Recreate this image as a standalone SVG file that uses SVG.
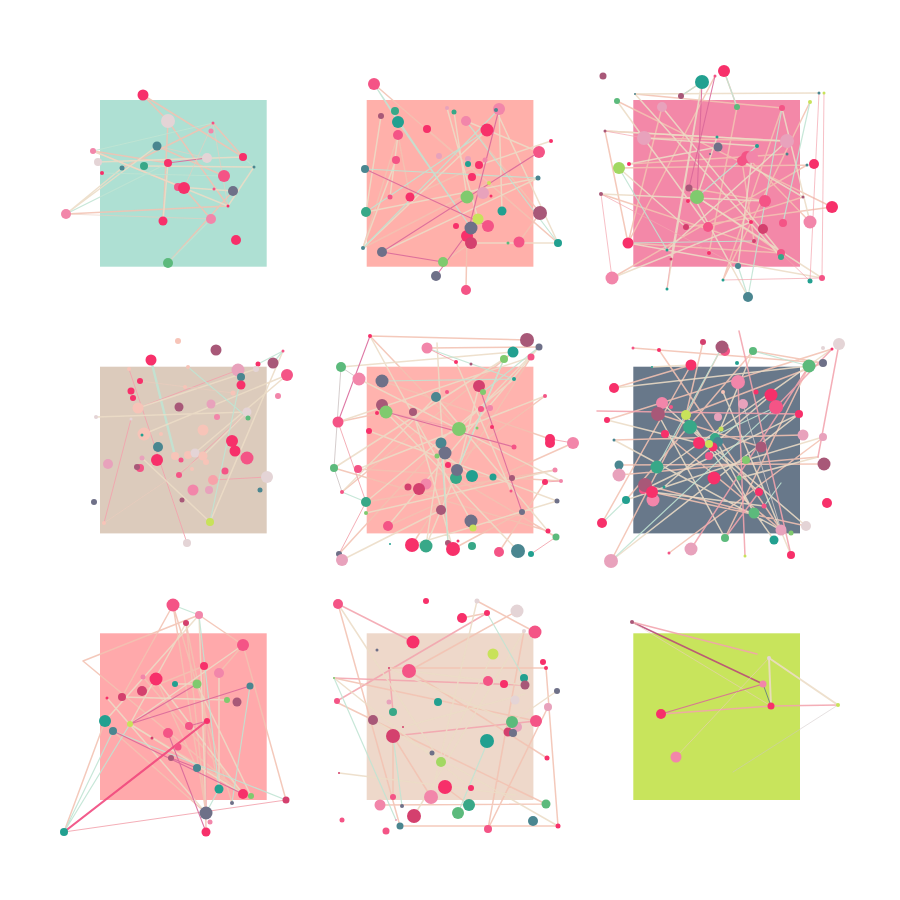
<svg xmlns="http://www.w3.org/2000/svg" width="900" height="900" viewBox="0 0 900 900">
<style>
path{fill:none;stroke-linecap:round;opacity:.88}
.e1{stroke:#f2c2b2;stroke-width:1.5}
.e2{stroke:#ecdcc6;stroke-width:1.5}
.e3{stroke:#bfe4d3;stroke-width:1.2}
.e4{stroke:#f3a3ad;stroke-width:1}
.e5{stroke:#d9679a;stroke-width:1.1}
.e6{stroke:#eccdbd;stroke-width:.7}
.e7{stroke:#cfc6c6;stroke-width:1}
.e8{stroke:#f0457c;stroke-width:2.2}
.e9{stroke:#b84878;stroke-width:1.6}
.e10{stroke:#5a7088;stroke-width:.9}
.h{fill:#f7306a}.p{fill:#f45486}.l{fill:#f286aa}.m{fill:#e8a2bc}.t{fill:#22a090}.s{fill:#4a8690}
.g{fill:#5cba7c}.j{fill:#38a888}.y{fill:#c8e25a}.v{fill:#a85878}.c{fill:#d4406e}.u{fill:#6e7088}
.w{fill:#e4d4d6}.e{fill:#f7c4b8}.n{fill:#80ca6e}.o{fill:#a2d862}.f{fill:#f7a2aa}
</style>
<g id="panels">
<rect x="100" y="100" width="166.7" height="166.7" fill="#aee0d3"/>
<rect x="366.7" y="100" width="166.7" height="166.7" fill="#ffb0aa"/>
<rect x="633.3" y="100" width="166.7" height="166.7" fill="#f388a8"/>
<rect x="100" y="366.7" width="166.7" height="166.7" fill="#dccbbc"/>
<rect x="366.7" y="366.7" width="166.7" height="166.7" fill="#ffb3ae"/>
<rect x="633.3" y="366.7" width="166.7" height="166.7" fill="#68788a"/>
<rect x="100" y="633.3" width="166.7" height="166.7" fill="#ffa9ab"/>
<rect x="366.7" y="633.3" width="166.7" height="166.7" fill="#eed8ca"/>
<rect x="633.3" y="633.3" width="166.7" height="166.7" fill="#c8e45c"/>
</g>
<g id="connectors">
<path class="e1" d="M143 95L168 121M143 95L243 157M168 121L163 221M168 121L228 206M93 151L184 188M122 168L213 123M66 214L228 206M168 263L233 191M184 188L211 219M157 146L224 176M213 123L243 157M93 151L168 163"/>
<path class="e2" d="M93 151L228 206M98 162L243 157M66 214L157 146M66 214L122 168M254 167L228 206M144 166L254 167M178 187L233 191M98 162L207 158M163 221L168 163"/>
<path class="e3" d="M66 214L168 163M168 263L211 219M93 151L213 123M254 167L243 157M224 176L102 173"/>
<path class="e5" d="M168 163L207 158"/>
<path class="e6" d="M213 123L228 206M213 123L184 188M157 146L207 158M66 214L211 219"/>

<path class="e1" d="M374 84L558 243M398 135L410 197M466 121L540 213M427 129L558 243M410 197L479 165M443 262L471 243M466 290L467 236M363 248L489 183M519 242L540 213M398 135L363 248"/>
<path class="e2" d="M398 135L390 197M499 109L502 211M496 110L558 243M447 108L478 219M466 121L539 152M487 130L363 248M551 141L479 165M538 178L366 212M538 178L382 252M471 243L558 243M454 112L467 197M381 116L366 212M396 160L363 248"/>
<path class="e3" d="M374 84L398 122M374 84L471 228M398 122L471 228M499 109L363 248M365 169L538 178M466 121L558 243M487 130L366 212"/>
<path class="e5" d="M499 109L467 236M365 169L488 226M539 152L382 252M382 252L443 262M436 276L471 228"/>

<path class="e1" d="M635 94L782 108M617 101L832 207M605 131L787 141M644 138L787 141M605 131L628 243M628 243L781 253M619 168L807 165M601 194L781 253M612 278L807 165M662 107L628 243M702 82L681 96M724 71L737 107M715 76L628 243M737 107L709 253M782 108L723 280M742 161L754 241M747 157L810 222M689 188L765 201M686 227L832 207M629 164L787 154M697 197L781 253M708 227L803 197M810 102L723 280"/>
<path class="e2" d="M635 94L819 93M644 138L757 146M617 101L708 227M787 141L605 131M702 82L671 259M702 82L667 289M718 147L629 164M697 197L822 278M752 157L738 266M619 168L686 227M782 108L810 222M635 94L781 257M601 194L765 201M612 278L751 222M689 188L748 297M662 107L781 253M628 243L822 278M717 137L697 197M742 161L803 197M667 250L787 141"/>
<path class="e3" d="M702 82L681 96M724 71L737 107M757 146L697 197M628 243L754 241M782 108L748 297M810 102L783 223M738 266L748 297M619 168L667 250"/>
<path class="e4" style="stroke-width:.8" d="M819 93L810 281M824 93L822 278M605 131L644 138M601 194L612 278M723 280L822 278M667 289L671 259M810 281L781 253M601 194L738 266"/>
<path class="e5" d="M702 82L697 197M715 76L689 188"/>

<path class="e3" style="stroke-width:2.4" d="M151 360L175 456"/>
<path class="e4" d="M129 369L187 543M138 408L238 370M104 523L131 419M213 480L267 477M179 475L247 412"/>
<path class="e2" d="M210 522L283 351M210 522L142 458M138 408L256 369M96 417L247 412M144 434L287 375M203 456L247 412M195 453L287 375"/>
<path class="e3" d="M188 367L248 418M258 364L283 351M273 363L283 351M210 522L241 377"/>
<path class="e6" d="M104 523L203 456M140 381L233 393"/>

<path class="e1" d="M370 336L527 340M338 422L386 412M427 348L539 347M342 492L513 352M366 502L555 470M388 526L573 443M412 545L531 357M426 484L545 396M339 554L441 443M456 478L556 537M382 381L550 439M370 336L459 429M334 468L548 531M358 469L561 481M453 549L522 512M499 552L545 482"/>
<path class="e2" d="M370 336L471 521M539 347L459 429M341 367L513 352M359 379L561 481M436 397L548 531M366 502L514 379M338 422L531 357M369 431L557 501M413 412L453 549M382 405L472 476M426 546L504 359M342 560L441 510M388 526L539 347M437 343L448 543M456 362L511 491M334 468L504 359M358 469L545 396M412 545L557 501M386 412L518 551M441 443L426 546M366 513L555 470M479 386L456 478M342 492L436 397"/>
<path class="e3" d="M427 348L514 379M382 381L514 379M441 443L448 543M366 502L342 492M504 359L457 470M539 347L483 392"/>
<path class="e4" d="M338 422L366 502M386 412L459 429M550 439L573 443M545 482L561 481M427 348L456 362M531 554L556 537M339 554L366 502"/>
<path class="e5" d="M386 412L514 447M370 336L338 422M479 386L522 512"/>
<path class="e7" d="M341 367L334 468M359 379L341 367M334 468L342 492"/>

<path class="e1" d="M633 348L823 363M659 350L781 530M614 388L691 365M607 420L832 349M614 440L803 435M619 465L824 464M611 561L722 347M602 523L691 365M669 553L824 437M645 485L754 513M619 475L818 457M652 492L806 526M686 415L823 363M753 351L823 363M658 414L761 447M725 538L809 366M626 500L753 351M703 342L686 415M665 434L781 530"/>
<path class="e2" d="M614 388L809 366M662 403L759 492M723 392L791 555M658 414L725 538M643 490L799 414M686 415L774 540M611 561L799 414M690 427L806 526M656 474L832 349M614 440L781 530M715 438L754 513M652 367L691 365M626 500L746 460M652 492L764 506M746 460L823 437M739 478L818 457M664 487L771 395M607 420L699 443M709 456L753 351"/>
<path class="e3" d="M699 443L776 407M611 561L776 407M657 467L722 347M626 500L602 523M764 506L781 483M753 351L809 366"/>
<path class="e4" style="stroke-width:1.5" d="M739 331L791 555M597 411L799 414M745 556L738 382M725 538L759 492M839 344L818 457M832 349L776 407M691 549L809 366"/>
<path class="e7" d="M743 404L781 530"/>

<path class="e1" d="M173 605L122 697M199 615L243 645M83 661L243 794M83 661L199 615M186 623L206 813M186 623L219 789M173 605L232 803M219 673L243 645M130 724L251 796M113 731L206 813M204 666L206 832M286 800L243 645M143 677L243 794M105 721L64 832M156 679L197 768M142 691L204 666M173 605L206 813"/>
<path class="e2" d="M199 615L105 721M186 623L130 724M175 684L197 684M122 697L227 700M197 684L251 796M243 645L130 724M219 673L219 789M199 615L206 813M156 679L243 794M107 698L206 813M130 724L243 794"/>
<path class="e3" d="M64 832L113 731M64 832L130 724M113 731L286 800M199 615L219 789M250 686L232 803M206 813L219 789M173 605L199 615"/>
<path class="e4" d="M64 832L286 800M207 721L206 813"/>
<path class="e5" d="M113 731L243 794M130 724L197 684M130 724L250 686M168 733L206 832M171 758L197 768M189 726L207 721"/>
<path class="e8" d="M64 832L207 721"/>

<path class="e4" style="stroke-width:1.5" d="M338 604L413 642M337 701L487 613M334 678L524 685M393 736L536 721M389 668L393 712"/>
<path class="e1" d="M338 604L400 826M477 601L535 632M517 611L409 671M487 613L462 618M334 678L536 721M409 671L547 758M393 736L393 797M524 631L488 829M336 702L546 804M431 797L393 736M548 707L488 829M469 805L445 787M400 826L558 826M380 805L546 804M389 668L546 668M546 668L558 826"/>
<path class="e2" d="M338 604L441 762M334 678L471 788M389 668L512 722M373 720L558 826M403 727L525 694M524 631L414 816M493 654L441 762M557 691L512 722M339 773L516 795M409 671L525 685M477 601L431 797"/>
<path class="e3" d="M487 613L524 678M334 678L396 820M393 736L402 806M488 741L458 813"/>

<path class="e9" d="M632 622L763 684"/>
<path class="e4" style="stroke-width:1.5" d="M632 622L757 654M661 714L771 706L838 705"/>
<path class="e6" d="M632 622L771 706M676 757L769 658"/>
<path class="e5" d="M661 714L763 684"/>
<path class="e2" style="stroke-width:2" d="M769 658L771 706M769 658L838 705"/>
<path class="e10" d="M763 684L771 706"/>
<path class="e7" style="stroke-width:.6" d="M838 705L733 772"/>
</g>
<g id="nodes">
<circle id="a1" class="h" cx="143" cy="95" r="5.5"/><circle id="a2" class="w" cx="168" cy="121" r="7"/><circle id="a3" class="p" cx="213" cy="123" r="1.5"/><circle id="a4" class="l" cx="211" cy="131" r="2.5"/><circle id="a5" class="s" cx="157" cy="146" r="4.5"/><circle id="a6" class="l" cx="93" cy="151" r="3"/><circle id="a7" class="w" cx="98" cy="162" r="4"/><circle id="a8" class="s" cx="122" cy="168" r="2.5"/><circle id="a9" class="h" cx="102" cy="173" r="2"/><circle id="a10" class="j" cx="144" cy="166" r="4"/><circle id="a11" class="h" cx="168" cy="163" r="4"/><circle id="a12" class="w" cx="207" cy="158" r="5"/><circle id="a13" class="h" cx="243" cy="157" r="4"/><circle id="a14" class="s" cx="254" cy="167" r="1.5"/><circle id="a15" class="p" cx="224" cy="176" r="6"/><circle id="a17" class="p" cx="178" cy="187" r="4"/><circle id="a16" class="h" cx="184" cy="188" r="6"/><circle id="a18" class="u" cx="233" cy="191" r="5"/><circle id="a19" class="p" cx="214" cy="189" r="1.5"/><circle id="a20" class="h" cx="228" cy="206" r="1.5"/><circle id="a21" class="l" cx="66" cy="214" r="5"/><circle id="a22" class="h" cx="163" cy="221" r="4.5"/><circle id="a23" class="l" cx="211" cy="219" r="5"/><circle id="a24" class="h" cx="236" cy="240" r="5"/><circle id="a25" class="g" cx="168" cy="263" r="5"/>

<circle id="b1" class="p" cx="374" cy="84" r="6"/><circle id="b2" class="j" cx="395" cy="111" r="4"/><circle id="b3" class="t" cx="398" cy="122" r="6"/><circle id="b4" class="v" cx="381" cy="116" r="3"/><circle id="b5" class="p" cx="398" cy="135" r="5"/><circle id="b6" class="h" cx="427" cy="129" r="4"/><circle id="b7" class="m" cx="447" cy="108" r="2"/><circle id="b8" class="j" cx="454" cy="112" r="2.5"/><circle id="b9" class="l" cx="466" cy="121" r="5"/><circle id="b10" class="l" cx="499" cy="109" r="6"/><circle id="b11" class="s" cx="496" cy="110" r="2"/><circle id="b12" class="h" cx="487" cy="130" r="6.5"/><circle id="b13" class="p" cx="396" cy="160" r="4"/><circle id="b14" class="m" cx="439" cy="156" r="3"/><circle id="b15" class="s" cx="365" cy="169" r="4"/><circle id="b16" class="m" cx="468" cy="159" r="3"/><circle id="b17" class="t" cx="468" cy="164" r="3"/><circle id="b18" class="h" cx="479" cy="165" r="4"/><circle id="b19" class="l" cx="485" cy="160" r="2.5"/><circle id="b20" class="h" cx="551" cy="141" r="2"/><circle id="b21" class="p" cx="539" cy="152" r="6"/><circle id="b22" class="s" cx="538" cy="178" r="2.5"/><circle id="b23" class="h" cx="472" cy="177" r="4"/><circle id="b24" class="y" cx="489" cy="183" r="2"/><circle id="b25" class="m" cx="483" cy="193" r="6"/><circle id="b26" class="h" cx="491" cy="196" r="1.5"/><circle id="b27" class="n" cx="467" cy="197" r="6.5"/><circle id="b28" class="h" cx="410" cy="197" r="4.5"/><circle id="b29" class="p" cx="390" cy="197" r="2.5"/><circle id="b30" class="j" cx="366" cy="212" r="5"/><circle id="b31" class="t" cx="502" cy="211" r="4.5"/><circle id="b32" class="v" cx="540" cy="213" r="7"/><circle id="b33" class="y" cx="478" cy="219" r="5.5"/><circle id="b34" class="p" cx="488" cy="226" r="6"/><circle id="b35" class="h" cx="456" cy="226" r="3"/><circle id="b37" class="h" cx="467" cy="236" r="6"/><circle id="b36" class="u" cx="471" cy="228" r="6.5"/><circle id="b38" class="c" cx="471" cy="243" r="6"/><circle id="b39" class="g" cx="508" cy="243" r="1.5"/><circle id="b40" class="p" cx="519" cy="242" r="5.5"/><circle id="b41" class="t" cx="558" cy="243" r="4"/><circle id="b42" class="s" cx="363" cy="248" r="2"/><circle id="b43" class="u" cx="382" cy="252" r="5"/><circle id="b44" class="n" cx="443" cy="262" r="5"/><circle id="b45" class="u" cx="436" cy="276" r="5"/><circle id="b46" class="p" cx="466" cy="290" r="5"/>

<circle id="c1" class="v" cx="603" cy="76" r="3.5"/><circle id="c2" class="h" cx="724" cy="71" r="6"/><circle id="c3" class="t" cx="702" cy="82" r="7"/><circle id="c4" class="v" cx="681" cy="96" r="3"/><circle id="c5" class="p" cx="715" cy="76" r="1.5"/><circle id="c6" class="s" cx="635" cy="94" r="1"/><circle id="c7" class="s" cx="819" cy="93" r="1.5"/><circle id="c8" class="y" cx="824" cy="93" r="1.5"/><circle id="c9" class="g" cx="617" cy="101" r="3"/><circle id="c10" class="m" cx="662" cy="107" r="5"/><circle id="c11" class="g" cx="737" cy="107" r="3"/><circle id="c12" class="p" cx="782" cy="108" r="3"/><circle id="c13" class="y" cx="810" cy="102" r="2"/><circle id="c14" class="v" cx="605" cy="131" r="1.5"/><circle id="c15" class="m" cx="644" cy="138" r="7"/><circle id="c16" class="t" cx="717" cy="137" r="1.5"/><circle id="c17" class="u" cx="718" cy="147" r="4.5"/><circle id="c18" class="t" cx="757" cy="146" r="2"/><circle id="c19" class="m" cx="787" cy="141" r="7"/><circle id="c20" class="u" cx="710" cy="154" r="1"/><circle id="c23" class="p" cx="742" cy="161" r="5"/><circle id="c21" class="p" cx="747" cy="157" r="6"/><circle id="c22" class="l" cx="752" cy="157" r="6"/><circle id="c24" class="s" cx="787" cy="154" r="1.5"/><circle id="c25" class="h" cx="629" cy="164" r="2"/><circle id="c26" class="o" cx="619" cy="168" r="6"/><circle id="c27" class="h" cx="814" cy="164" r="5"/><circle id="c28" class="s" cx="807" cy="165" r="1.5"/><circle id="c29" class="v" cx="689" cy="188" r="3.5"/><circle id="c30" class="n" cx="697" cy="197" r="7"/><circle id="c31" class="h" cx="688" cy="201" r="2"/><circle id="c32" class="v" cx="601" cy="194" r="2"/><circle id="c33" class="h" cx="832" cy="207" r="6"/><circle id="c34" class="v" cx="803" cy="197" r="1.5"/><circle id="c35" class="p" cx="765" cy="201" r="6"/><circle id="c36" class="l" cx="810" cy="222" r="6.5"/><circle id="c37" class="c" cx="686" cy="227" r="3"/><circle id="c38" class="p" cx="708" cy="227" r="5"/><circle id="c39" class="c" cx="763" cy="229" r="5"/><circle id="c40" class="h" cx="751" cy="222" r="2"/><circle id="c41" class="p" cx="783" cy="223" r="4"/><circle id="c42" class="c" cx="754" cy="241" r="2"/><circle id="c43" class="h" cx="628" cy="243" r="5.5"/><circle id="c44" class="t" cx="667" cy="250" r="1.5"/><circle id="c45" class="h" cx="709" cy="253" r="2"/><circle id="c46" class="c" cx="671" cy="259" r="1.5"/><circle id="c47" class="p" cx="781" cy="253" r="4"/><circle id="c48" class="j" cx="781" cy="257" r="3"/><circle id="c49" class="s" cx="738" cy="266" r="3"/><circle id="c50" class="l" cx="612" cy="278" r="6.5"/><circle id="c51" class="t" cx="723" cy="280" r="1.5"/><circle id="c52" class="t" cx="810" cy="281" r="2.5"/><circle id="c53" class="p" cx="822" cy="278" r="3"/><circle id="c54" class="t" cx="667" cy="289" r="1.5"/><circle id="c55" class="s" cx="748" cy="297" r="5"/>

<circle id="d1" class="e" cx="178" cy="341" r="3"/><circle id="d2" class="v" cx="216" cy="350" r="5.5"/><circle id="d3" class="h" cx="151" cy="360" r="5.5"/><circle id="d4" class="p" cx="283" cy="351" r="1.5"/><circle id="d5" class="h" cx="258" cy="364" r="2.5"/><circle id="d6" class="v" cx="273" cy="363" r="5.5"/><circle id="d7" class="p" cx="287" cy="375" r="6"/><circle id="d8" class="m" cx="238" cy="370" r="6.5"/><circle id="d11" class="w" cx="256" cy="369" r="3"/><circle id="d9" class="s" cx="241" cy="377" r="4"/><circle id="d10" class="h" cx="241" cy="385" r="4.5"/><circle id="d12" class="e" cx="188" cy="367" r="2"/><circle id="d13" class="e" cx="129" cy="369" r="2"/><circle id="d14" class="h" cx="140" cy="381" r="3"/><circle id="d15" class="h" cx="131" cy="391" r="3.5"/><circle id="d16" class="h" cx="133" cy="398" r="3"/><circle id="d17" class="e" cx="185" cy="387" r="2"/><circle id="d18" class="e" cx="233" cy="393" r="2.5"/><circle id="d19" class="l" cx="278" cy="396" r="3"/><circle id="d20" class="e" cx="138" cy="408" r="5.5"/><circle id="d21" class="v" cx="179" cy="407" r="4.5"/><circle id="d22" class="m" cx="211" cy="404" r="4.5"/><circle id="d23" class="w" cx="247" cy="412" r="4.5"/><circle id="d24" class="g" cx="248" cy="418" r="2.5"/><circle id="d25" class="l" cx="217" cy="417" r="3"/><circle id="d26" class="w" cx="96" cy="417" r="2"/><circle id="d27" class="w" cx="131" cy="419" r="1.5"/><circle id="d28" class="e" cx="144" cy="434" r="6.5"/><circle id="d29" class="t" cx="142" cy="435" r="1.5"/><circle id="d30" class="e" cx="161" cy="434" r="2"/><circle id="d31" class="e" cx="203" cy="430" r="5.5"/><circle id="d32" class="h" cx="232" cy="441" r="6"/><circle id="d33" class="h" cx="235" cy="451" r="5.5"/><circle id="d34" class="p" cx="247" cy="458" r="6.5"/><circle id="d35" class="s" cx="158" cy="447" r="5"/><circle id="d36" class="h" cx="157" cy="460" r="6"/><circle id="d39" class="e" cx="175" cy="456" r="4"/><circle id="d38" class="e" cx="188" cy="455" r="4"/><circle id="d37" class="w" cx="195" cy="453" r="4.5"/><circle id="d40" class="e" cx="203" cy="456" r="4.5"/><circle id="d41" class="p" cx="181" cy="460" r="2.5"/><circle id="d42" class="e" cx="206" cy="462" r="3"/><circle id="d43" class="m" cx="108" cy="464" r="5"/><circle id="d44" class="m" cx="142" cy="458" r="2.5"/><circle id="d46" class="p" cx="140" cy="468" r="4"/><circle id="d45" class="v" cx="137" cy="467" r="3"/><circle id="d47" class="e" cx="192" cy="469" r="2"/><circle id="d48" class="p" cx="179" cy="475" r="3"/><circle id="d49" class="p" cx="225" cy="471" r="3.5"/><circle id="d50" class="f" cx="213" cy="480" r="5"/><circle id="d51" class="w" cx="267" cy="477" r="6"/><circle id="d52" class="l" cx="193" cy="490" r="5.5"/><circle id="d53" class="m" cx="209" cy="490" r="4"/><circle id="d54" class="s" cx="260" cy="490" r="2.5"/><circle id="d55" class="v" cx="182" cy="500" r="2.5"/><circle id="d56" class="u" cx="94" cy="502" r="3"/><circle id="d57" class="y" cx="210" cy="522" r="4"/><circle id="d58" class="e" cx="104" cy="523" r="2"/><circle id="d59" class="w" cx="187" cy="543" r="4"/>

<circle id="f1" class="h" cx="370" cy="336" r="2"/><circle id="f2" class="l" cx="427" cy="348" r="5.5"/><circle id="f3" class="v" cx="527" cy="340" r="7"/><circle id="f4" class="u" cx="539" cy="347" r="3.5"/><circle id="f5" class="t" cx="513" cy="352" r="5.5"/><circle id="f6" class="p" cx="531" cy="357" r="3.5"/><circle id="f7" class="n" cx="504" cy="359" r="4"/><circle id="f8" class="h" cx="456" cy="362" r="2"/><circle id="f9" class="v" cx="471" cy="364" r="1.5"/><circle id="f10" class="g" cx="341" cy="367" r="5"/><circle id="f11" class="l" cx="359" cy="379" r="6.5"/><circle id="f12" class="u" cx="382" cy="381" r="6.5"/><circle id="f13" class="t" cx="514" cy="379" r="2"/><circle id="f14" class="c" cx="479" cy="386" r="6"/><circle id="f15" class="n" cx="483" cy="392" r="3"/><circle id="f16" class="s" cx="436" cy="397" r="5"/><circle id="f17" class="p" cx="447" cy="392" r="2"/><circle id="f18" class="v" cx="382" cy="405" r="6"/><circle id="f19" class="n" cx="386" cy="412" r="6.5"/><circle id="f20" class="h" cx="377" cy="413" r="2"/><circle id="f21" class="v" cx="413" cy="412" r="4"/><circle id="f22" class="p" cx="481" cy="409" r="3"/><circle id="f23" class="l" cx="490" cy="408" r="3"/><circle id="f24" class="p" cx="545" cy="396" r="2"/><circle id="f25" class="p" cx="338" cy="422" r="5.5"/><circle id="f26" class="h" cx="369" cy="431" r="3"/><circle id="f27" class="n" cx="459" cy="429" r="7"/><circle id="f28" class="n" cx="477" cy="428" r="1.5"/><circle id="f29" class="h" cx="492" cy="427" r="2"/><circle id="f30" class="h" cx="550" cy="439" r="5"/><circle id="f31" class="h" cx="550" cy="443" r="5"/><circle id="f32" class="l" cx="573" cy="443" r="6"/><circle id="f33" class="p" cx="514" cy="447" r="2.5"/><circle id="f34" class="s" cx="441" cy="443" r="5.5"/><circle id="f35" class="u" cx="445" cy="453" r="6.5"/><circle id="f36" class="n" cx="437" cy="456" r="2.5"/><circle id="f37" class="h" cx="448" cy="465" r="3"/><circle id="f39" class="j" cx="456" cy="478" r="6"/><circle id="f38" class="u" cx="457" cy="470" r="6"/><circle id="f40" class="t" cx="472" cy="476" r="6"/><circle id="f41" class="t" cx="493" cy="477" r="3.5"/><circle id="f42" class="v" cx="512" cy="478" r="3"/><circle id="f43" class="g" cx="334" cy="468" r="4"/><circle id="f44" class="p" cx="358" cy="469" r="4"/><circle id="f45" class="h" cx="545" cy="482" r="3"/><circle id="f46" class="l" cx="555" cy="470" r="2.5"/><circle id="f47" class="l" cx="561" cy="481" r="2"/><circle id="f48" class="l" cx="426" cy="484" r="5.5"/><circle id="f49" class="c" cx="419" cy="489" r="6"/><circle id="f50" class="c" cx="408" cy="487" r="3.5"/><circle id="f51" class="p" cx="511" cy="491" r="1.5"/><circle id="f52" class="p" cx="342" cy="492" r="2"/><circle id="f53" class="u" cx="557" cy="501" r="2.5"/><circle id="f54" class="j" cx="366" cy="502" r="5"/><circle id="f55" class="v" cx="441" cy="510" r="5"/><circle id="f56" class="u" cx="522" cy="512" r="3"/><circle id="f57" class="n" cx="366" cy="513" r="2"/><circle id="f58" class="u" cx="471" cy="521" r="6.5"/><circle id="f59" class="y" cx="473" cy="528" r="3.5"/><circle id="f60" class="p" cx="388" cy="526" r="5"/><circle id="f61" class="h" cx="548" cy="531" r="2.5"/><circle id="f62" class="g" cx="556" cy="537" r="3.5"/><circle id="f63" class="h" cx="412" cy="545" r="7"/><circle id="f64" class="j" cx="426" cy="546" r="6.5"/><circle id="f65" class="v" cx="448" cy="543" r="3"/><circle id="f66" class="h" cx="453" cy="549" r="7"/><circle id="f67" class="h" cx="458" cy="541" r="1.5"/><circle id="f68" class="j" cx="472" cy="546" r="4"/><circle id="f69" class="p" cx="499" cy="552" r="5"/><circle id="f70" class="s" cx="518" cy="551" r="7"/><circle id="f71" class="t" cx="531" cy="554" r="3"/><circle id="f72" class="u" cx="339" cy="554" r="3"/><circle id="f73" class="m" cx="342" cy="560" r="6"/><circle id="f74" class="t" cx="390" cy="544" r="1"/>

<circle id="g1" class="p" cx="633" cy="348" r="1.5"/><circle id="g2" class="h" cx="659" cy="350" r="2"/><circle id="g3" class="c" cx="703" cy="342" r="3"/><circle id="g5" class="p" cx="725" cy="351" r="5"/><circle id="g4" class="v" cx="722" cy="347" r="6.5"/><circle id="g6" class="g" cx="753" cy="351" r="4"/><circle id="g7" class="t" cx="737" cy="363" r="2"/><circle id="g8" class="w" cx="823" cy="348" r="2"/><circle id="g9" class="h" cx="832" cy="349" r="1.5"/><circle id="g10" class="w" cx="839" cy="344" r="6"/><circle id="g11" class="g" cx="809" cy="366" r="6.5"/><circle id="g12" class="u" cx="823" cy="363" r="4"/><circle id="g13" class="h" cx="691" cy="365" r="5.5"/><circle id="g14" class="t" cx="652" cy="367" r="1"/><circle id="g15" class="h" cx="614" cy="388" r="5"/><circle id="g16" class="l" cx="738" cy="382" r="7"/><circle id="g17" class="e" cx="723" cy="392" r="2"/><circle id="g18" class="h" cx="756" cy="392" r="2.5"/><circle id="g19" class="h" cx="771" cy="395" r="6.5"/><circle id="g20" class="p" cx="776" cy="407" r="7"/><circle id="g21" class="h" cx="799" cy="414" r="4"/><circle id="g22" class="l" cx="662" cy="403" r="6"/><circle id="g23" class="m" cx="743" cy="404" r="5"/><circle id="g24" class="p" cx="671" cy="407" r="2"/><circle id="g25" class="v" cx="658" cy="414" r="7"/><circle id="g26" class="y" cx="686" cy="415" r="5"/><circle id="g27" class="h" cx="607" cy="420" r="3"/><circle id="g28" class="m" cx="718" cy="417" r="4"/><circle id="g30" class="j" cx="690" cy="427" r="7"/><circle id="g29" class="y" cx="721" cy="429" r="2.5"/><circle id="g31" class="s" cx="614" cy="440" r="1.5"/><circle id="g32" class="h" cx="665" cy="434" r="4"/><circle id="g33" class="j" cx="715" cy="438" r="5"/><circle id="g34" class="s" cx="718" cy="442" r="5"/><circle id="g35" class="h" cx="699" cy="443" r="6"/><circle id="g37" class="h" cx="713" cy="447" r="4.5"/><circle id="g36" class="y" cx="709" cy="444" r="4"/><circle id="g38" class="p" cx="709" cy="456" r="4"/><circle id="g39" class="m" cx="803" cy="435" r="5.5"/><circle id="g40" class="m" cx="823" cy="437" r="4"/><circle id="g41" class="v" cx="761" cy="447" r="5.5"/><circle id="g42" class="n" cx="746" cy="460" r="4"/><circle id="g43" class="s" cx="619" cy="465" r="4.5"/><circle id="g44" class="m" cx="619" cy="475" r="6.5"/><circle id="g45" class="j" cx="657" cy="467" r="6.5"/><circle id="g46" class="v" cx="824" cy="464" r="6.5"/><circle id="g47" class="h" cx="714" cy="478" r="6.5"/><circle id="g48" class="g" cx="739" cy="478" r="2.5"/><circle id="g51" class="p" cx="643" cy="490" r="4"/><circle id="g53" class="l" cx="653" cy="500" r="6.5"/><circle id="g49" class="v" cx="645" cy="485" r="7"/><circle id="g50" class="h" cx="652" cy="492" r="6"/><circle id="g52" class="t" cx="664" cy="487" r="1.5"/><circle id="g54" class="h" cx="759" cy="492" r="4"/><circle id="g55" class="p" cx="764" cy="506" r="2.5"/><circle id="g56" class="t" cx="626" cy="500" r="4"/><circle id="g57" class="h" cx="827" cy="503" r="5"/><circle id="g58" class="g" cx="754" cy="513" r="5.5"/><circle id="g59" class="h" cx="602" cy="523" r="5"/><circle id="g60" class="w" cx="806" cy="526" r="5"/><circle id="g61" class="m" cx="781" cy="530" r="5.5"/><circle id="g62" class="n" cx="791" cy="533" r="2.5"/><circle id="g63" class="g" cx="725" cy="538" r="4"/><circle id="g64" class="t" cx="774" cy="540" r="4.5"/><circle id="g65" class="m" cx="691" cy="549" r="6.5"/><circle id="g66" class="p" cx="669" cy="553" r="1.5"/><circle id="g67" class="h" cx="791" cy="555" r="4"/><circle id="g68" class="y" cx="745" cy="556" r="1.5"/><circle id="g69" class="m" cx="611" cy="561" r="7"/>

<circle id="k1" class="p" cx="173" cy="605" r="6.5"/><circle id="k2" class="l" cx="199" cy="615" r="4"/><circle id="k3" class="c" cx="186" cy="623" r="3"/><circle id="k4" class="p" cx="243" cy="645" r="6"/><circle id="k5" class="h" cx="204" cy="666" r="4"/><circle id="k6" class="l" cx="219" cy="673" r="5"/><circle id="k7" class="l" cx="143" cy="677" r="2.5"/><circle id="k8" class="h" cx="156" cy="679" r="6.5"/><circle id="k9" class="t" cx="175" cy="684" r="3"/><circle id="k10" class="n" cx="197" cy="684" r="4.5"/><circle id="k11" class="c" cx="142" cy="691" r="5"/><circle id="k12" class="c" cx="122" cy="697" r="4"/><circle id="k13" class="h" cx="107" cy="698" r="1.5"/><circle id="k14" class="s" cx="250" cy="686" r="3.5"/><circle id="k15" class="n" cx="227" cy="700" r="3"/><circle id="k16" class="v" cx="237" cy="702" r="4.5"/><circle id="k17" class="t" cx="105" cy="721" r="6"/><circle id="k18" class="s" cx="113" cy="731" r="4"/><circle id="k19" class="y" cx="130" cy="724" r="3"/><circle id="k20" class="h" cx="207" cy="721" r="3"/><circle id="k21" class="p" cx="189" cy="726" r="4"/><circle id="k22" class="p" cx="168" cy="733" r="5"/><circle id="k23" class="c" cx="152" cy="738" r="1.5"/><circle id="k24" class="p" cx="178" cy="747" r="3.5"/><circle id="k25" class="v" cx="171" cy="758" r="3"/><circle id="k26" class="s" cx="197" cy="768" r="4"/><circle id="k27" class="t" cx="219" cy="789" r="4.5"/><circle id="k28" class="h" cx="243" cy="794" r="5"/><circle id="k29" class="n" cx="251" cy="796" r="3"/><circle id="k30" class="u" cx="232" cy="803" r="2"/><circle id="k31" class="c" cx="286" cy="800" r="3.5"/><circle id="k32" class="u" cx="206" cy="813" r="6.5"/><circle id="k33" class="l" cx="210" cy="822" r="2.5"/><circle id="k34" class="h" cx="206" cy="832" r="4.5"/><circle id="k35" class="t" cx="64" cy="832" r="4"/>

<circle id="q1" class="p" cx="338" cy="604" r="5"/><circle id="q2" class="h" cx="426" cy="601" r="3"/><circle id="q3" class="w" cx="477" cy="601" r="2.5"/><circle id="q4" class="w" cx="517" cy="611" r="6.5"/><circle id="q5" class="h" cx="487" cy="613" r="3"/><circle id="q6" class="h" cx="462" cy="618" r="5"/><circle id="q7" class="p" cx="535" cy="632" r="6.5"/><circle id="q8" class="w" cx="524" cy="631" r="2"/><circle id="q9" class="h" cx="413" cy="642" r="6.5"/><circle id="q10" class="u" cx="377" cy="650" r="1.5"/><circle id="q11" class="y" cx="493" cy="654" r="5.5"/><circle id="q12" class="h" cx="543" cy="662" r="3"/><circle id="q13" class="h" cx="546" cy="668" r="2"/><circle id="q14" class="c" cx="389" cy="668" r="1"/><circle id="q15" class="p" cx="409" cy="671" r="7"/><circle id="q16" class="n" cx="334" cy="678" r="1"/><circle id="q17" class="p" cx="488" cy="681" r="5"/><circle id="q18" class="h" cx="504" cy="684" r="4"/><circle id="q19" class="t" cx="524" cy="678" r="4"/><circle id="q20" class="v" cx="525" cy="685" r="4.5"/><circle id="q21" class="u" cx="557" cy="691" r="3"/><circle id="q22" class="w" cx="515" cy="700" r="4.5"/><circle id="q23" class="p" cx="337" cy="701" r="3"/><circle id="q24" class="m" cx="389" cy="702" r="2.5"/><circle id="q25" class="t" cx="438" cy="702" r="4"/><circle id="q26" class="m" cx="548" cy="707" r="4"/><circle id="q27" class="j" cx="393" cy="712" r="4"/><circle id="q28" class="v" cx="373" cy="720" r="5"/><circle id="q31" class="m" cx="517" cy="727" r="5"/><circle id="q29" class="g" cx="512" cy="722" r="6"/><circle id="q30" class="p" cx="536" cy="721" r="6"/><circle id="q32" class="c" cx="508" cy="732" r="4.5"/><circle id="q33" class="u" cx="513" cy="733" r="4"/><circle id="q34" class="c" cx="403" cy="727" r="1"/><circle id="q35" class="c" cx="393" cy="736" r="7"/><circle id="q36" class="t" cx="487" cy="741" r="7"/><circle id="q37" class="u" cx="432" cy="753" r="2.5"/><circle id="q38" class="o" cx="441" cy="762" r="5"/><circle id="q39" class="h" cx="547" cy="758" r="2.5"/><circle id="q40" class="c" cx="339" cy="773" r="1"/><circle id="q41" class="h" cx="445" cy="787" r="7"/><circle id="q42" class="h" cx="471" cy="788" r="3"/><circle id="q43" class="l" cx="431" cy="797" r="7"/><circle id="q44" class="p" cx="393" cy="797" r="3"/><circle id="q45" class="l" cx="380" cy="805" r="5.5"/><circle id="q46" class="j" cx="469" cy="805" r="6"/><circle id="q47" class="g" cx="546" cy="804" r="4.5"/><circle id="q48" class="u" cx="402" cy="806" r="2"/><circle id="q49" class="c" cx="414" cy="816" r="7"/><circle id="q50" class="g" cx="458" cy="813" r="6"/><circle id="q51" class="p" cx="342" cy="820" r="2.5"/><circle id="q52" class="m" cx="396" cy="820" r="1"/><circle id="q53" class="s" cx="400" cy="826" r="3.5"/><circle id="q54" class="p" cx="386" cy="831" r="3.5"/><circle id="q55" class="s" cx="533" cy="821" r="5"/><circle id="q56" class="p" cx="488" cy="829" r="4"/><circle id="q57" class="h" cx="558" cy="826" r="2.5"/>

<circle id="r1" class="v" cx="632" cy="622" r="2"/><circle id="r2" class="w" cx="769" cy="658" r="2"/><circle id="r3" class="l" cx="763" cy="684" r="3.5"/><circle id="r4" class="h" cx="771" cy="706" r="3.5"/><circle id="r5" class="y" cx="838" cy="705" r="2"/><circle id="r6" class="h" cx="661" cy="714" r="5"/><circle id="r7" class="l" cx="676" cy="757" r="5.5"/>
</g>
</svg>
